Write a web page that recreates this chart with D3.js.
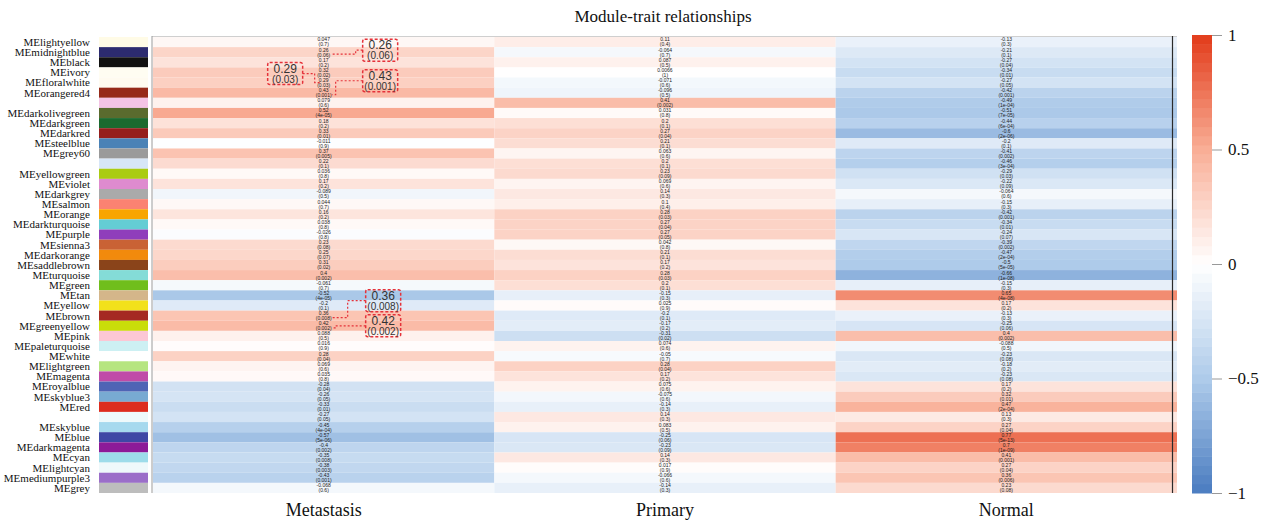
<!DOCTYPE html>
<html>
<head>
<meta charset="utf-8">
<script src="https://cdn.jsdelivr.net/npm/d3@7"></script>
<style>
  body { margin: 0; background: #fff; }
  svg { display: block; }
</style>
</head>
<body>
<div id="app"></div>
<script>
// module eigengenes, top to bottom
const modules = [
  "MElightyellow", "MEmidnightblue", "MEblack", "MEivory", "MEfloralwhite", "MEorangered4",
  "MEplum1", "MEdarkolivegreen", "MEdarkgreen", "MEdarkred", "MEsteelblue", "MEgrey60",
  "MElightsteelblue1", "MEyellowgreen", "MEviolet", "MEdarkgrey", "MEsalmon", "MEorange",
  "MEdarkturquoise", "MEpurple", "MEsienna3", "MEdarkorange", "MEsaddlebrown", "MEturquoise",
  "MEgreen", "MEtan", "MEyellow", "MEbrown", "MEgreenyellow", "MEpink", "MEpaleturquoise",
  "MEwhite", "MElightgreen", "MEmagenta", "MEroyalblue", "MEskyblue3", "MEred",
  "MElightcyan1", "MEskyblue", "MEblue", "MEdarkmagenta", "MEcyan", "MElightcyan",
  "MEmediumpurple3", "MEgrey"
];

// swatch colours as they look in the figure
const moduleColors = [
  "#fffbe6", "#2c2b6f", "#111111", "#fffdf2", "#fffbf0", "#962a19",
  "#f4c4e5", "#5a6b2e", "#1b6a2f", "#951e1c", "#4a82b6", "#9a9a9a",
  "#d7e6f7", "#aacc12", "#de8bcf", "#aaaaaa", "#fb8272", "#f8a500",
  "#64cdd4", "#8f3ebb", "#c96235", "#f28a0c", "#8a441a", "#84dcd7",
  "#70be1c", "#d4b68a", "#f2e11b", "#a52a22", "#c9dd0a", "#fcc7d5", "#cdf0f3",
  "#ffffff", "#b6e580", "#c04ba8", "#4f64b5", "#78aad2", "#dd2c1e",
  "#eef9fb", "#a6d9ee", "#3f47a5", "#8d1a98", "#9ddcea", "#eef9fb",
  "#9b6ec9", "#bdbdbd"
];

// rows whose names R dropped because they would overlap
const hiddenLabels = ["MEplum1", "MElightsteelblue1", "MElightcyan1"];

const traits = ["Metastasis", "Primary", "Normal"];

const corMetastasis = [
  0.047, 0.26, 0.17, 0.32, 0.29, 0.43, 0.079, 0.52, 0.18, 0.33, -0.011, 0.37,
  0.22, 0.036, 0.17, -0.089, 0.044, 0.16, 0.038, -0.026, 0.23, 0.25, 0.31, 0.4,
  -0.061, -0.52, -0.2, 0.36, 0.42, 0.088, 0.016, 0.28, 0.069, 0.035, -0.28, -0.26,
  -0.33, -0.27, -0.45, -0.57, -0.4, -0.35, -0.38, -0.43, -0.068
];
const pMetastasis = [
  "0.7", "0.06", "0.2", "0.02", "0.03", "0.001", "0.6", "4e-05", "0.2", "0.01", "0.9", "0.005",
  "0.1", "0.8", "0.2", "0.5", "0.7", "0.2", "0.8", "0.8", "0.08", "0.07", "0.02", "0.002",
  "0.7", "4e-05", "0.1", "0.008", "0.002", "0.5", "0.9", "0.04", "0.6", "0.8", "0.04", "0.05",
  "0.01", "0.05", "4e-04", "5e-06", "0.002", "0.008", "0.003", "0.001", "0.6"
];

const corPrimary = [
  0.11, -0.064, 0.087, 0.0066, -0.071, -0.096, 0.41, 0.031, 0.2, 0.27, 0.21, 0.063,
  0.2, 0.23, 0.069, 0.14, 0.1, 0.28, 0.27, 0.27, 0.042, 0.21, 0.17, 0.28,
  0.2, -0.15, 0.025, -0.2, -0.17, -0.31, 0.074, -0.05, 0.28, 0.17, 0.075, -0.075,
  -0.14, 0.14, 0.083, -0.25, -0.23, 0.14, 0.017, -0.066, -0.14
];
const pPrimary = [
  "0.4", "0.7", "0.5", "1", "0.6", "0.5", "0.002", "0.8", "0.1", "0.04", "0.1", "0.6",
  "0.1", "0.09", "0.6", "0.3", "0.4", "0.03", "0.04", "0.05", "0.8", "0.1", "0.2", "0.03",
  "0.1", "0.3", "0.9", "0.1", "0.2", "0.02", "0.6", "0.7", "0.04", "0.2", "0.6", "0.6",
  "0.3", "0.3", "0.5", "0.06", "0.09", "0.3", "0.9", "0.6", "0.3"
];

const corNormal = [
  -0.13, -0.21, -0.27, -0.34, -0.27, -0.42, -0.49, -0.51, -0.44, -0.6, -0.2, -0.41,
  -0.46, -0.29, -0.22, -0.064, -0.15, -0.42, -0.34, -0.24, -0.39, -0.47, -0.5, -0.66,
  -0.15, 0.65, 0.17, -0.13, -0.25, 0.4, -0.088, -0.23, -0.18, -0.23, 0.17, 0.32,
  0.47, 0.13, 0.27, 0.77, 0.7, 0.41, 0.27, 0.36, 0.23
];
const pNormal = [
  "0.3", "0.1", "0.04", "0.01", "0.05", "0.001", "1e-04", "7e-05", "6e-04", "2e-06", "0.1", "0.002",
  "3e-04", "0.03", "0.09", "0.6", "0.3", "0.001", "0.01", "0.07", "0.002", "2e-04", "5e-05", "1e-08",
  "0.3", "4e-08", "0.2", "0.3", "0.06", "0.002", "0.5", "0.08", "0.2", "0.08", "0.2", "0.01",
  "2e-04", "0.3", "0.04", "5e-13", "1e-09", "0.001", "0.04", "0.006", "0.08"
];

// enlarged call-outs drawn over the Metastasis column
const callouts = [
  { module: "MEmidnightblue", trait: "Metastasis", dx: 39, dy: -13, elbowX: 20, side: "right" },
  { module: "MEfloralwhite", trait: "Metastasis", dx: -56, dy: -20, elbowX: -10, side: "left" },
  { module: "MEorangered4", trait: "Metastasis", dx: 39, dy: -23, elbowX: 0, side: "right" },
  { module: "MEbrown", trait: "Metastasis", dx: 42, dy: -26, elbowX: 12, side: "right" },
  { module: "MEgreenyellow", trait: "Metastasis", dx: 42, dy: -11, elbowX: 0, side: "right" }
];

const width = 1274, height = 525;
const margin = { top: 37, right: 97, bottom: 32, left: 153 };

const cors = [corMetastasis, corPrimary, corNormal];
const pvals = [pMetastasis, pPrimary, pNormal];

const cells = [];
modules.forEach((m, i) => {
  traits.forEach((t, j) => {
    cells.push({ module: m, trait: t, r: cors[j][i], p: pvals[j][i] });
  });
});

const svg = d3.select("#app")
  .append("svg")
  .attr("width", width)
  .attr("height", height);

const x = d3.scaleBand()
  .domain(traits)
  .range([margin.left, width - margin.right]);

const y = d3.scaleBand()
  .domain(modules)
  .range([margin.top, height - margin.bottom]);

const color = d3.scaleLinear()
  .domain([-1, -0.5, 0, 0.5, 1])
  .range(["#4a7cc0", "#aecbea", "#ffffff", "#f9ae96", "#e23b1a"])
  .clamp(true);

const serif = "'Liberation Serif', 'DejaVu Serif', serif";
const sans = "'Liberation Sans', Arial, sans-serif";

// title
svg.append("text")
  .attr("x", 663)
  .attr("y", 22)
  .attr("text-anchor", "middle")
  .style("font-family", serif)
  .style("font-size", "17px")
  .style("fill", "#111")
  .text("Module-trait relationships");

// heatmap cells
svg.append("g")
  .selectAll("rect")
  .data(cells)
  .join("rect")
  .attr("x", d => x(d.trait))
  .attr("y", d => y(d.module))
  .attr("width", x.bandwidth())
  .attr("height", y.bandwidth())
  .style("fill", d => color(d.r));

// cell text: correlation and (p-value)
const cellText = svg.append("g")
  .style("font-family", sans)
  .style("font-size", "5px")
  .style("fill", "#222")
  .attr("text-anchor", "middle");

cellText.selectAll("text.r")
  .data(cells)
  .join("text")
  .attr("class", "r")
  .attr("x", d => x(d.trait) + x.bandwidth() / 2)
  .attr("y", d => y(d.module) + y.bandwidth() / 2 - 0.6)
  .text(d => String(d.r));

cellText.selectAll("text.p")
  .data(cells)
  .join("text")
  .attr("class", "p")
  .attr("x", d => x(d.trait) + x.bandwidth() / 2)
  .attr("y", d => y(d.module) + y.bandwidth() / 2 + 4.4)
  .text(d => "(" + d.p + ")");

// frame
svg.append("line")
  .attr("x1", margin.left - 1).attr("x2", width - margin.right)
  .attr("y1", margin.top - 0.5).attr("y2", margin.top - 0.5)
  .style("stroke", "#cfcfcf");
svg.append("line")
  .attr("x1", margin.left - 1).attr("x2", margin.left - 1)
  .attr("y1", margin.top - 1).attr("y2", height - margin.bottom)
  .style("stroke", "#9a9a9a");
svg.append("line")
  .attr("x1", width - margin.right - 4.5).attr("x2", width - margin.right - 4.5)
  .attr("y1", margin.top - 1).attr("y2", height - margin.bottom)
  .style("stroke", "#2b2b2b")
  .style("stroke-width", 1.2);

// module colour swatches
svg.append("g")
  .selectAll("rect")
  .data(modules)
  .join("rect")
  .attr("x", 99)
  .attr("y", d => y(d))
  .attr("width", 49)
  .attr("height", y.bandwidth())
  .style("fill", (d, i) => moduleColors[i]);

// module names
svg.append("g")
  .selectAll("text")
  .data(modules.filter(m => !hiddenLabels.includes(m)))
  .join("text")
  .attr("x", 90)
  .attr("y", d => y(d) + y.bandwidth() / 2)
  .attr("dy", "0.35em")
  .attr("text-anchor", "end")
  .style("font-family", serif)
  .style("font-size", "11px")
  .style("fill", "#111")
  .text(d => d);

// trait names
svg.append("g")
  .selectAll("text")
  .data(traits)
  .join("text")
  .attr("x", d => x(d) + x.bandwidth() / 2)
  .attr("y", 516)
  .attr("text-anchor", "middle")
  .style("font-family", serif)
  .style("font-size", "18px")
  .style("fill", "#111")
  .text(d => d);

// call-outs
const calloutG = svg.append("g");
callouts.forEach(c => {
  const i = modules.indexOf(c.module);
  const j = traits.indexOf(c.trait);
  const cx = x(c.trait) + x.bandwidth() / 2;
  const cy = y(c.module) + y.bandwidth() / 2;
  const bw = 35, bh = 22;
  const bx = cx + c.dx, by = cy + c.dy;
  const g = calloutG.append("g");

  let path;
  if (c.side === "right") {
    const ay = by + bh / 2;
    const ex = cx + 12 + c.elbowX;
    path = [[bx, ay], [ex, ay], [ex, cy + 2], [cx + 8, cy + 2]];
  } else {
    const ay = by + bh / 2;
    const ex = bx + bw + 12 + c.elbowX + 10;
    path = [[bx + bw, ay], [ex, ay], [ex, cy], [cx - 4, cy]];
  }
  g.append("path")
    .attr("d", d3.line()(path))
    .style("fill", "none")
    .style("stroke", "#e5323a")
    .style("stroke-width", 1.2)
    .style("stroke-dasharray", "2,2");

  g.append("rect")
    .attr("x", bx).attr("y", by)
    .attr("width", bw).attr("height", bh)
    .attr("rx", 2)
    .style("fill", "none")
    .style("stroke", "#e5323a")
    .style("stroke-width", 1.5)
    .style("stroke-dasharray", "3,2");

  g.append("text")
    .attr("x", bx + bw / 2).attr("y", by + 10)
    .attr("text-anchor", "middle")
    .style("font-family", sans)
    .style("font-size", "12px")
    .style("fill", "#333")
    .text(String(cors[j][i]));

  g.append("text")
    .attr("x", bx + bw / 2).attr("y", by + 20)
    .attr("text-anchor", "middle")
    .style("font-family", sans)
    .style("font-size", "10px")
    .style("fill", "#333")
    .text("(" + pvals[j][i] + ")");
});

// colour legend
const legendY = d3.scaleLinear()
  .domain([-1, 1])
  .range([height - margin.bottom, margin.top - 2]);

const steps = d3.range(-1, 1, 0.04);
svg.append("g")
  .selectAll("rect")
  .data(steps)
  .join("rect")
  .attr("x", 1192)
  .attr("y", d => legendY(d + 0.04))
  .attr("width", 20)
  .attr("height", d => legendY(d) - legendY(d + 0.04) + 0.5)
  .style("fill", d => color(d + 0.02));

const legendAxis = svg.append("g")
  .attr("transform", "translate(1212,0)")
  .call(d3.axisRight(legendY)
    .tickValues([-1, -0.5, 0, 0.5, 1])
    .tickSize(10)
    .tickPadding(6)
    .tickFormat(d3.format("")));

legendAxis.select(".domain").remove();
legendAxis.selectAll(".tick line").style("stroke", "#999");
legendAxis.selectAll(".tick text")
  .style("font-family", serif)
  .style("font-size", "17px")
  .style("fill", "#111");
</script>
</body>
</html>
